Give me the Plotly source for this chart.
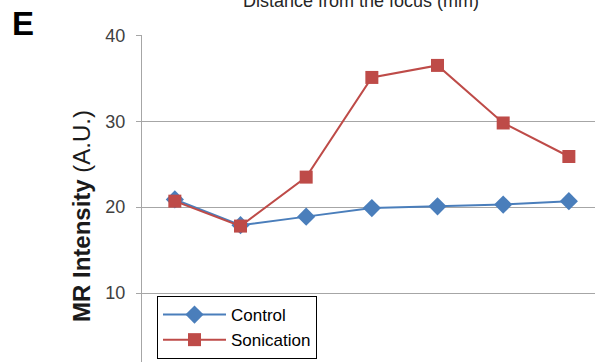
import plotly.graph_objects as go

categories = ["1", "2", "3", "4", "5", "6", "7"]
control = [20.9, 17.9, 18.9, 19.9, 20.1, 20.3, 20.7]
sonication = [20.7, 17.8, 23.5, 35.1, 36.5, 29.8, 25.9]
y_ticks = [10, 20, 30, 40]

W, H = 595, 362
L, T = 142, 35
PW, PH = W - L, H - T

def px_x(p):
    return (p - L) / PW

def px_y(p):
    return (H - p) / PH

fig = go.Figure()
fig.add_trace(go.Scatter(
    x=list(range(len(categories))), y=control, name="Control",
    mode="lines+markers",
    line=dict(color="#4a7ebb", width=2),
    marker=dict(symbol="diamond", size=14, color="#4a7ebb"),
))
fig.add_trace(go.Scatter(
    x=list(range(len(categories))), y=sonication, name="Sonication",
    mode="lines+markers",
    line=dict(color="#be4b48", width=2),
    marker=dict(symbol="square", size=13, color="#be4b48"),
))

fig.update_layout(
    width=W, height=H,
    margin=dict(l=L, r=0, t=T, b=0, autoexpand=False),
    paper_bgcolor="white", plot_bgcolor="white",
    font=dict(family="Liberation Sans, Arial, sans-serif", color="#404040"),
    xaxis=dict(range=[-0.5, 6.398], showgrid=False, showticklabels=False,
               zeroline=False, showline=False, ticks="", automargin=False),
    yaxis=dict(range=[1.98, 40.04], tickvals=y_ticks, showgrid=True,
               gridcolor="#a6a6a6", gridwidth=1, zeroline=False,
               showline=True, linecolor="#a6a6a6", linewidth=1,
               ticks="outside", ticklen=5, tickcolor="#a6a6a6",
               ticklabelstandoff=7, automargin=False,
               tickfont=dict(size=18, color="#404040")),
    legend=dict(x=px_x(157), y=px_y(359), xanchor="left", yanchor="bottom",
                bordercolor="black", borderwidth=1, bgcolor="white",
                font=dict(size=17, color="black"), tracegroupgap=0,
                itemwidth=63, entrywidth=170),
    showlegend=True,
)
fig.add_annotation(text="Distance from the focus (mm)", xref="paper", yref="paper",
                   x=px_x(361), y=1, xanchor="center", yanchor="bottom", yshift=22,
                   showarrow=False, font=dict(size=18, color="#262626"))
fig.add_annotation(text="<b>E</b>", xref="paper", yref="paper",
                   x=px_x(10), y=px_y(24), xanchor="left", yanchor="middle",
                   showarrow=False, font=dict(size=33, color="black"))
fig.add_annotation(text="<b>MR Intensity </b>(A.U.)", xref="paper", yref="paper",
                   x=px_x(82), y=px_y(216), xanchor="center", yanchor="middle",
                   textangle=-90, showarrow=False,
                   font=dict(size=24, color="#1a1a1a"))

fig.write_html("out.html", config={"displayModeBar": False},
               post_script="document.body.style.margin='0';")
